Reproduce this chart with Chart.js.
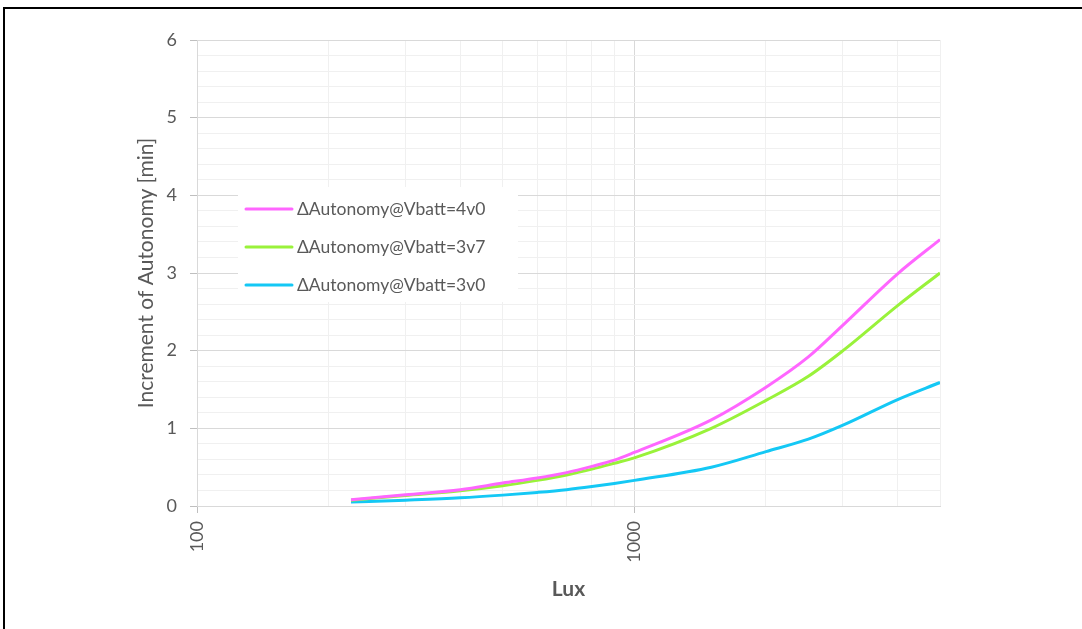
<!DOCTYPE html>
<html>
<head>
<meta charset="utf-8">
<script src="https://cdn.jsdelivr.net/npm/chart.js@4.4.0/dist/chart.umd.min.js"></script>
<style>
html,body{margin:0;padding:0;background:#ffffff;}
#wrap{position:relative;width:1082px;height:629px;}
canvas{display:block;}
</style>
</head>
<body>
<div id="wrap"><canvas id="c" width="1082" height="629"></canvas></div>
<script>
// ---- data ----
const lux      = [225, 300, 400, 500, 600, 700, 800, 900, 1000, 1500, 2000, 2500, 3000, 4000, 5000];
const vbatt4v0 = [0.08, 0.145, 0.21, 0.295, 0.36, 0.43, 0.51, 0.59, 0.69, 1.11, 1.53, 1.92, 2.33, 2.99, 3.43];
const vbatt3v7 = [0.075, 0.135, 0.195, 0.26, 0.33, 0.40, 0.475, 0.55, 0.62, 1.00, 1.36, 1.67, 2.00, 2.58, 3.00];
const vbatt3v0 = [0.05, 0.075, 0.105, 0.14, 0.175, 0.21, 0.25, 0.29, 0.33, 0.50, 0.70, 0.86, 1.04, 1.37, 1.59];
const seriesLabels = ['\u0394Autonomy@Vbatt=4v0', '\u0394Autonomy@Vbatt=3v7', '\u0394Autonomy@Vbatt=3v0'];
const xGridValues = [100, 200, 300, 400, 500, 600, 700, 800, 900, 1000, 2000, 3000, 4000, 5000];
const xTickLabels = [100, 1000];
const yTickLabels = [0, 1, 2, 3, 4, 5, 6];
const xTitle = 'Lux';
const yTitle = 'Increment of Autonomy [min]';

const colors = ['#FF66FF', '#99F23A', '#14C8F5'];
const FONT = 'Lato, "Open Sans", sans-serif';
const TXT = '#595959';

const toPts = arr => lux.map((x, i) => ({x: x, y: arr[i]}));
const seriesValues = [vbatt4v0, vbatt3v7, vbatt3v0];

// minor y grid: 5 subdivisions between labelled values
const yGridValues = [];
for (let i = 0; i < yTickLabels.length - 1; i++) {
  for (let k = 0; k < 5; k++) yGridValues.push(yTickLabels[i] + (yTickLabels[i+1]-yTickLabels[i]) * k / 5);
}
yGridValues.push(yTickLabels[yTickLabels.length-1]);

const isMajorY = v => yTickLabels.some(t => Math.abs(t - v) < 1e-6);
const isMajorX = v => xTickLabels.includes(v);

const framePlugin = {
  id: 'frame',
  beforeDraw(chart) {
    const ctx = chart.ctx;
    ctx.save();
    ctx.fillStyle = '#ffffff';
    ctx.fillRect(0, 0, chart.width, chart.height);
    ctx.fillStyle = '#000000';
    ctx.fillRect(3, 7, chart.width - 3, 2);
    ctx.fillRect(3, 7, 2, chart.height - 7);
    ctx.restore();
  }
};

const legendPlugin = {
  id: 'boxLegend',
  afterDatasetsDraw(chart) {
    const ctx = chart.ctx;
    const a = chart.chartArea;
    const bx = a.left + 41, by = a.top + 147;
    ctx.save();
    ctx.fillStyle = '#ffffff';
    ctx.fillRect(bx, by, 280, 115);
    ctx.font = '17.5px ' + FONT;
    ctx.textBaseline = 'middle';
    ctx.textAlign = 'left';
    chart.data.datasets.forEach((ds, i) => {
      const y = by + 22 + i * 38;
      ctx.strokeStyle = ds.borderColor;
      ctx.lineWidth = 3;
      ctx.lineCap = 'round';
      ctx.beginPath();
      ctx.moveTo(bx + 8, y);
      ctx.lineTo(bx + 54, y);
      ctx.stroke();
      ctx.fillStyle = TXT;
      ctx.fillText(ds.label, bx + 59, y);
    });
    ctx.restore();
  }
};

new Chart(document.getElementById('c'), {
  type: 'line',
  data: {
    datasets: seriesValues.map((arr, i) => ({
      label: seriesLabels[i],
      data: toPts(arr),
      borderColor: colors[i],
      backgroundColor: colors[i],
      borderWidth: 3,
      pointRadius: 0,
      pointHoverRadius: 0,
      fill: false,
      cubicInterpolationMode: 'monotone'
    }))
  },
  options: {
    responsive: false,
    devicePixelRatio: 1,
    animation: false,
    events: [],
    layout: {padding: {left: 0, top: 40, right: 142, bottom: 0}},
    plugins: {legend: {display: false}, tooltip: {enabled: false}},
    scales: {
      x: {
        type: 'logarithmic',
        min: 100,
        max: 5000,
        position: 'bottom',
        afterBuildTicks: s => { s.ticks = xGridValues.map(v => ({value: v, major: isMajorX(v)})); },
        afterFit: s => { s.height = 123; },
        ticks: {
          autoSkip: false,
          minRotation: 90,
          maxRotation: 90,
          padding: 8,
          color: TXT,
          font: {family: FONT, size: 18},
          callback: v => isMajorX(v) ? String(v) : ''
        },
        grid: {
          color: c => (c.tick && isMajorX(c.tick.value)) ? '#D9D9D9' : '#F0F0F0',
          tickColor: c => (c.tick && isMajorX(c.tick.value)) ? '#BFBFBF' : 'rgba(0,0,0,0)',
          tickLength: 7,
          lineWidth: 1
        },
        border: {display: true, color: '#D9D9D9', width: 1},
        title: {
          display: true,
          text: xTitle,
          color: TXT,
          font: {family: FONT, size: 21, weight: 'bold'},
          padding: {top: 4, bottom: 27}
        }
      },
      y: {
        type: 'linear',
        min: 0,
        max: 6,
        afterBuildTicks: s => { s.ticks = yGridValues.map(v => ({value: v})); },
        afterFit: s => { s.width = 197; },
        ticks: {
          autoSkip: false,
          padding: 13,
          color: TXT,
          font: {family: FONT, size: 18},
          callback: v => isMajorY(v) ? String(Math.round(v)) : ''
        },
        grid: {
          color: c => (c.tick && isMajorY(c.tick.value)) ? '#D9D9D9' : '#F0F0F0',
          tickColor: c => (c.tick && isMajorY(c.tick.value)) ? '#BFBFBF' : 'rgba(0,0,0,0)',
          tickLength: 7,
          lineWidth: 1
        },
        border: {display: true, color: '#D9D9D9', width: 1},
        title: {
          display: true,
          text: yTitle,
          color: TXT,
          font: {family: FONT, size: 21},
          padding: {top: 134, bottom: 0}
        }
      }
    }
  },
  plugins: [framePlugin, legendPlugin]
});
</script>
</body>
</html>
